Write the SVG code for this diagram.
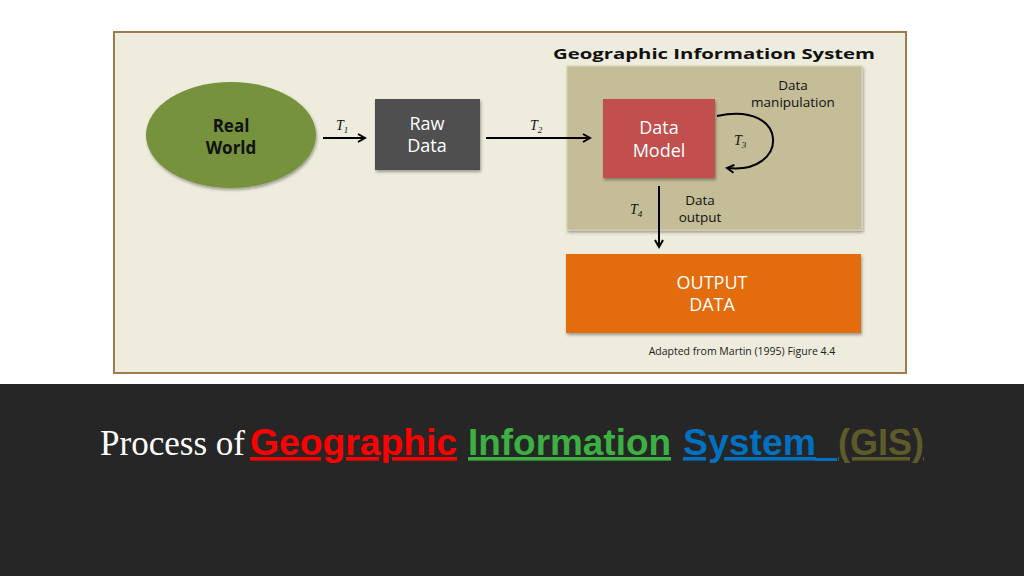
<svg xmlns="http://www.w3.org/2000/svg" width="1024" height="576" viewBox="0 0 1024 576">
<style>
.s{font-family:"Open Sans","Liberation Sans",sans-serif}
.w{fill:#fff;font-size:18px;text-anchor:middle}
.k{fill:#111;font-size:13.5px;text-anchor:middle}
.t{font-family:"Liberation Serif",serif;font-style:italic;font-size:14px;fill:#111}
.c{stroke:#000;stroke-width:2;fill:none}
.cap{font-family:"Liberation Sans",sans-serif;font-weight:bold;text-decoration:underline}
</style>
<defs>
<marker id="a" viewBox="0 0 10 10" refX="8" refY="5" markerWidth="5" markerHeight="5" orient="auto"><path d="M1,1 L8,5 L1,9" fill="none" stroke="#000" stroke-width="2"/></marker>
<filter id="sh"><feDropShadow dx="1" dy="2" stdDeviation="1.5" flood-opacity="0.35"/></filter>
</defs>
<rect width="1024" height="576" fill="#fff"/>
<rect x="0" y="384" width="1024" height="192" fill="#262626"/>
<rect x="114" y="32" width="792" height="341" fill="#eeecdc" stroke="#a07a4f" stroke-width="2"/>
<text x="714" y="59" class="s" font-size="15" font-weight="bold" text-anchor="middle" fill="#111" textLength="322" lengthAdjust="spacingAndGlyphs">Geographic Information System</text>
<g id="gis"><rect x="567" y="66" width="295" height="164" fill="#c4bd97" stroke="#d8d3b5" filter="url(#sh)"/></g>
<g id="real"><ellipse cx="231" cy="135" rx="85" ry="53" fill="#76923c" filter="url(#sh)"/>
<text x="231" y="132" class="s" font-size="17" font-weight="bold" text-anchor="middle" fill="#111">Real</text>
<text x="231" y="154" class="s" font-size="17" font-weight="bold" text-anchor="middle" fill="#111">World</text></g>
<g id="raw"><rect x="375" y="99" width="105" height="71" fill="#505050" filter="url(#sh)"/>
<text x="427" y="130" class="s w">Raw</text><text x="427" y="152" class="s w">Data</text></g>
<g id="model"><rect x="603" y="99" width="112" height="79" fill="#c0504d" filter="url(#sh)"/>
<text x="659" y="134" class="s w">Data</text><text x="659" y="157" class="s w">Model</text></g>
<g id="output"><rect x="566" y="254" width="295" height="79" fill="#e36c09" filter="url(#sh)"/>
<text x="712" y="289" class="s w">OUTPUT</text><text x="712" y="311" class="s w">DATA</text></g>
<g id="connectors">
<line x1="323" y1="138" x2="365" y2="138" class="c" marker-end="url(#a)"/>
<line x1="486" y1="138" x2="590" y2="138" class="c" marker-end="url(#a)"/>
<path d="M717,116 C790,100 790,175 727,168" class="c" marker-end="url(#a)"/>
<line x1="659" y1="186" x2="659" y2="247" class="c" marker-end="url(#a)"/>
</g>
<text x="336" y="130" class="t">T<tspan font-size="9" dy="3">1</tspan></text>
<text x="530" y="130" class="t">T<tspan font-size="9" dy="3">2</tspan></text>
<text x="734" y="145" class="t">T<tspan font-size="9" dy="3">3</tspan></text>
<text x="630" y="214" class="t">T<tspan font-size="9" dy="3">4</tspan></text>
<text x="793" y="90" class="s k">Data</text><text x="793" y="107" class="s k">manipulation</text>
<text x="700" y="205" class="s k">Data</text><text x="700" y="222" class="s k">output</text>
<text x="742" y="355" class="s" font-size="10.5" text-anchor="middle" fill="#222">Adapted from Martin (1995) Figure 4.4</text>
<g font-size="36">
<text x="100" y="455" font-family="'Liberation Serif',serif" fill="#fff" textLength="145" lengthAdjust="spacingAndGlyphs">Process of</text>
<text x="250" y="455" class="cap" fill="#ff0000" textLength="207" lengthAdjust="spacingAndGlyphs">Geographic</text>
<text x="468" y="455" class="cap" fill="#3cb043" textLength="203" lengthAdjust="spacingAndGlyphs">Information</text>
<text x="683" y="455" class="cap" fill="#0070c0" textLength="133" lengthAdjust="spacingAndGlyphs">System</text>
<rect x="815" y="458" width="22" height="3" fill="#0070c0"/>
<text x="838" y="455" class="cap" fill="#5e5a2a" textLength="86" lengthAdjust="spacingAndGlyphs">(GIS)</text>
</g>
</svg>
